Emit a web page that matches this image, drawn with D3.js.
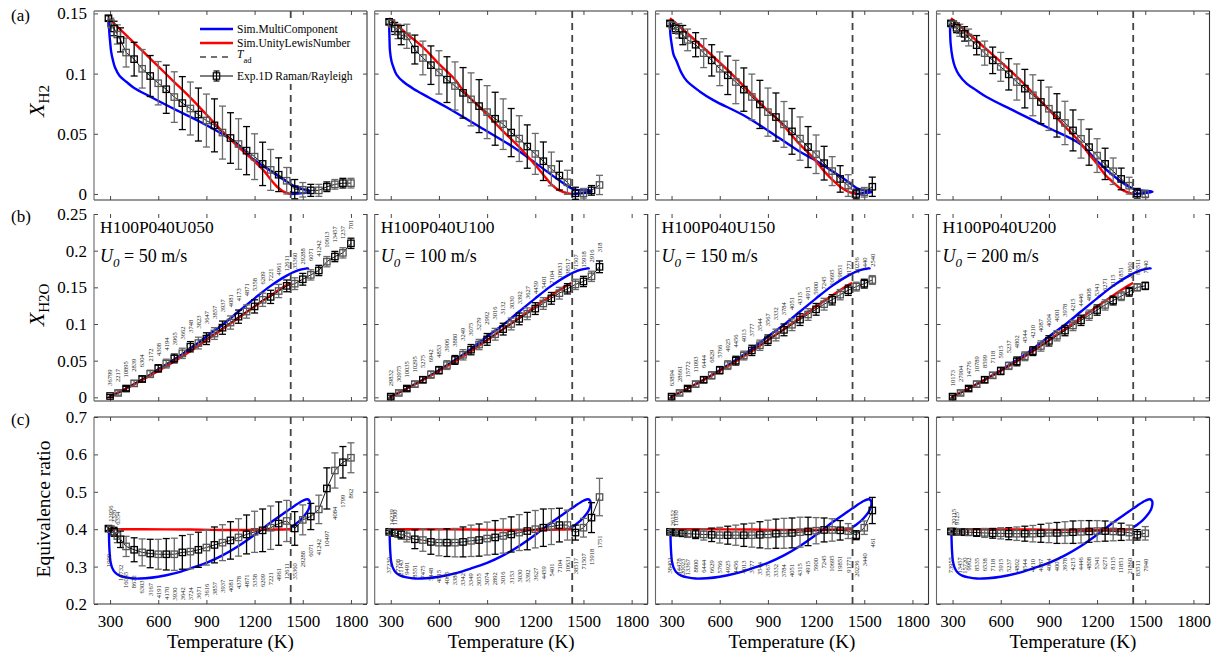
<!DOCTYPE html>
<html><head><meta charset="utf-8">
<script src="https://cdn.jsdelivr.net/npm/d3@7"></script>
<style>
body{margin:0;background:#fff}
svg{display:block}
</style>
</head><body>
<svg id="chart" width="1218" height="660" font-family="Liberation Serif"></svg>
<script>
// ---------------- DATA ----------------
const caseNames = ["H100P040U050","H100P040U100","H100P040U150","H100P040U200"];
const inletSpeeds = ["50","100","150","200"];
const tAdiabatic = [1425,1430,1427,1425];
const xTicks = [300,600,900,1200,1500,1800];
const xTickLabels = ["300","600","900","1200","1500","1800"];
const yTicksA = [0,0.05,0.1,0.15];
const yTickLabelsA = ["0","0.05","0.1","0.15"];
const yTicksB = [0,0.05,0.1,0.15,0.2,0.25];
const yTickLabelsB = ["0","0.05","0.1","0.15","0.2","0.25"];
const yTicksC = [0.2,0.3,0.4,0.5,0.6,0.7];
const yTickLabelsC = ["0.2","0.3","0.4","0.5","0.6","0.7"];
const legendLabels = ["Sim.MultiComponent","Sim.UnityLewisNumber","T_ad","Exp.1D Raman/Rayleigh"];

// temperature bins, rows (a) and (c)
const tAC1 = [290,305,325,345,365,400,450,500,550,600,650,700,750,800,850,900,950,1000,1050,1100,1150,1200,1250,1300,1350,1400,1450,1500,1550,1600,1650,1700,1750,1800];
const tAC2 = [290,305,325,345,365,400,450,500,550,600,650,700,750,800,850,900,950,1000,1050,1100,1150,1200,1250,1300,1350,1400,1450,1500,1550,1600];
const tAC3 = [290,305,325,345,370,400,450,500,550,600,650,700,750,800,850,900,950,1000,1050,1100,1150,1200,1250,1300,1350,1400,1450,1500,1550];
const tAC4 = [290,305,325,345,375,400,450,500,550,600,650,700,750,800,850,900,950,1000,1050,1100,1150,1200,1250,1300,1350,1400,1450,1500];
// temperature bins, row (b)
const tB1 = [300,350,400,450,500,550,600,650,700,750,800,850,900,950,1000,1050,1100,1150,1200,1250,1300,1350,1400,1450,1500,1550,1600,1650,1700,1750,1800];
const tB2 = [300,350,400,450,500,550,600,650,700,750,800,850,900,950,1000,1050,1100,1150,1200,1250,1300,1350,1400,1450,1500,1550,1600];
const tB3 = [300,350,400,450,500,550,600,650,700,750,800,850,900,950,1000,1050,1100,1150,1200,1250,1300,1350,1400,1450,1500,1550];
const tB4 = [300,350,400,450,500,550,600,650,700,750,800,850,900,950,1000,1050,1100,1150,1200,1250,1300,1350,1400,1450,1500];

// (a) X_H2 experiment
const xH2_1 = [0.146,0.142,0.1375,0.1325,0.128,0.1175,0.112,0.104,0.098,0.092,0.087,0.0805,0.0755,0.071,0.066,0.061,0.057,0.051,0.0465,0.0415,0.036,0.031,0.025,0.020,0.016,0.011,0.004,0.0035,0.003,0.003,0.006,0.008,0.009,0.009];
const errH2_1 = [0.002,0.004,0.006,0.008,0.010,0.012,0.014,0.016,0.017,0.018,0.020,0.021,0.022,0.022,0.022,0.022,0.022,0.022,0.021,0.021,0.020,0.019,0.018,0.017,0.014,0.011,0.008,0.006,0.005,0.005,0.004,0.004,0.004,0.004];
const xH2_2 = [0.143,0.1417,0.1375,0.135,0.132,0.131,0.120,0.113,0.107,0.101,0.095,0.0897,0.084,0.0786,0.073,0.068,0.0625,0.058,0.051,0.046,0.0394,0.0333,0.0272,0.0208,0.0153,0.0097,0.0006,0.0006,0.003,0.0075];
const errH2_2 = [0.002,0.003,0.005,0.006,0.008,0.010,0.012,0.014,0.016,0.018,0.019,0.020,0.021,0.022,0.022,0.022,0.022,0.021,0.020,0.019,0.018,0.017,0.016,0.014,0.012,0.010,0.005,0.004,0.004,0.008];
const xH2_3 = [0.1417,0.140,0.1375,0.1356,0.132,0.128,0.124,0.117,0.111,0.104,0.0986,0.093,0.0867,0.0806,0.0744,0.068,0.0639,0.0578,0.052,0.046,0.039,0.033,0.0256,0.019,0.0125,0.007,0.0,0.0014,0.006];
const errH2_3 = [0.002,0.003,0.004,0.006,0.008,0.009,0.010,0.012,0.013,0.014,0.016,0.018,0.018,0.019,0.020,0.020,0.020,0.019,0.019,0.018,0.017,0.016,0.014,0.012,0.011,0.009,0.004,0.004,0.008];
const xH2_4 = [0.1417,0.141,0.138,0.136,0.133,0.130,0.1236,0.117,0.111,0.1056,0.0994,0.093,0.0875,0.082,0.0764,0.0708,0.0653,0.059,0.0528,0.0458,0.0389,0.0319,0.025,0.0189,0.0125,0.0069,0.0006,0.0];
const errH2_4 = [0.002,0.003,0.004,0.005,0.006,0.007,0.008,0.010,0.011,0.012,0.013,0.015,0.016,0.017,0.018,0.018,0.018,0.018,0.017,0.016,0.015,0.014,0.013,0.011,0.009,0.007,0.004,0.003];

// (b) X_H2O experiment
const xH2O_1 = [0.0018,0.006,0.012,0.019,0.025,0.032,0.0395,0.046,0.053,0.060,0.069,0.074,0.080,0.087,0.095,0.102,0.110,0.117,0.124,0.133,0.137,0.145,0.152,0.155,0.161,0.167,0.173,0.185,0.192,0.197,0.210];
const errH2O_1 = [0.002,0.003,0.003,0.004,0.004,0.005,0.005,0.006,0.006,0.007,0.007,0.008,0.008,0.008,0.009,0.009,0.009,0.009,0.009,0.009,0.009,0.009,0.008,0.008,0.008,0.007,0.007,0.007,0.007,0.007,0.007];
const xH2O_2 = [0.001,0.006,0.012,0.018,0.024,0.031,0.037,0.044,0.051,0.058,0.065,0.072,0.079,0.086,0.093,0.100,0.107,0.114,0.121,0.128,0.135,0.142,0.148,0.154,0.158,0.165,0.178];
const errH2O_2 = [0.002,0.003,0.003,0.004,0.004,0.005,0.005,0.006,0.006,0.007,0.007,0.007,0.008,0.008,0.008,0.008,0.008,0.008,0.008,0.008,0.008,0.008,0.007,0.007,0.007,0.007,0.008];
const xH2O_3 = [0.001,0.006,0.012,0.018,0.024,0.030,0.037,0.044,0.050,0.057,0.064,0.071,0.078,0.085,0.092,0.099,0.106,0.113,0.120,0.127,0.133,0.140,0.146,0.151,0.155,0.160];
const errH2O_3 = [0.002,0.003,0.003,0.004,0.004,0.005,0.005,0.006,0.006,0.006,0.007,0.007,0.007,0.008,0.008,0.008,0.008,0.008,0.008,0.008,0.007,0.007,0.007,0.006,0.006,0.006];
const xH2O_4 = [0.001,0.006,0.012,0.018,0.024,0.030,0.036,0.043,0.049,0.056,0.063,0.070,0.077,0.084,0.091,0.098,0.105,0.112,0.119,0.126,0.132,0.138,0.144,0.150,0.152];
const errH2O_4 = [0.002,0.003,0.003,0.004,0.004,0.004,0.005,0.005,0.006,0.006,0.006,0.007,0.007,0.007,0.007,0.007,0.007,0.007,0.007,0.007,0.006,0.006,0.006,0.005,0.005];

// (c) equivalence ratio experiment
const phi_1 = [0.4016,0.400,0.393,0.382,0.373,0.354,0.345,0.338,0.335,0.333,0.333,0.333,0.338,0.340,0.345,0.351,0.358,0.364,0.370,0.378,0.386,0.393,0.397,0.404,0.415,0.422,0.402,0.425,0.434,0.453,0.509,0.557,0.579,0.591];
const errPhi_1 = [0.005,0.008,0.012,0.018,0.022,0.027,0.032,0.036,0.038,0.040,0.042,0.043,0.045,0.046,0.047,0.047,0.048,0.048,0.050,0.050,0.052,0.055,0.057,0.058,0.058,0.055,0.045,0.040,0.035,0.038,0.055,0.047,0.042,0.040];
const phi_2 = [0.393,0.392,0.390,0.388,0.386,0.381,0.373,0.371,0.366,0.364,0.364,0.364,0.366,0.369,0.371,0.375,0.378,0.382,0.386,0.391,0.395,0.400,0.404,0.407,0.411,0.411,0.391,0.404,0.431,0.486];
const errPhi_2 = [0.004,0.006,0.008,0.010,0.012,0.015,0.025,0.030,0.033,0.035,0.037,0.038,0.040,0.042,0.043,0.044,0.045,0.046,0.047,0.048,0.050,0.050,0.050,0.048,0.045,0.040,0.020,0.025,0.040,0.050];
const phi_3 = [0.393,0.392,0.391,0.390,0.389,0.388,0.387,0.386,0.385,0.384,0.384,0.384,0.384,0.384,0.385,0.386,0.388,0.389,0.390,0.392,0.394,0.396,0.398,0.398,0.397,0.395,0.384,0.404,0.450];
const errPhi_3 = [0.003,0.004,0.005,0.006,0.008,0.010,0.012,0.015,0.018,0.021,0.024,0.027,0.030,0.032,0.035,0.038,0.039,0.040,0.040,0.040,0.038,0.035,0.032,0.030,0.026,0.020,0.012,0.018,0.035];
const phi_4 = [0.394,0.394,0.393,0.393,0.392,0.392,0.391,0.390,0.389,0.389,0.388,0.388,0.388,0.388,0.389,0.390,0.390,0.391,0.392,0.393,0.394,0.395,0.395,0.394,0.393,0.391,0.385,0.389];
const errPhi_4 = [0.004,0.005,0.006,0.007,0.008,0.009,0.010,0.012,0.013,0.015,0.016,0.018,0.020,0.022,0.024,0.026,0.028,0.029,0.030,0.030,0.029,0.028,0.027,0.025,0.023,0.020,0.014,0.018];

// sample counts printed next to the points
const countsB1 = ["36799","2217","10895","2839","6304","2172","4308","4194","3965","3662","3748","3823","3647","3857","3937","4081","4173","4871","5358","6209","7221","4961","12611","35360","29288","6071","41242","10613","13457","1237","701"];
const countsB2 = ["29832","30975","10035","10295","5275","6942","4853","3906","3880","3249","3075","3279","2992","3016","3132","3030","3392","3627","4459","5401","7104","10631","38517","71507","15918","2916","318"];
const countsB3 = ["63894","28661","15772","11093","6444","6829","5766","4925","4456","4013","3777","3544","3567","3332","3784","4051","4315","4915","5900","7245","10695","19851","91771","20236","3440","2540"];
const countsB4 = ["10173","27904","14776","10789","8599","7118","5915","5237","4802","4544","4210","4087","4004","4001","3978","4215","4446","4808","5341","6271","8115","11851","21860","83511","7940"];
const countsC1 = ["1990","12956","2326","6354","14732","16045","8672","6303","3167","4191","4170","3930","3642","3724","3671","3616","3857","3937","4081","4378","4871","5358","6209","7221","4961","12611","35360","29288","6071","41242","10497","4084","1799","862"];
const countsC2 = ["37230","14239","11500","17708","21143","9491","8551","7475","5448","4815","4065","3380","3342","3349","3055","3074","2892","3016","3153","3030","3392","3627","4459","5401","7104","10631","38517","71507","15918","1751"];
const countsC3 = ["38401","26152","11050","14478","20023","13367","8800","6444","6629","5766","4925","4456","4013","3777","3544","3567","3332","3784","4051","4315","4915","5900","7245","10695","19851","91771","20236","3440","461"];
const countsC4 = ["73955","20115","9125","13457","15720","9962","8535","6538","7118","5915","5237","4802","4544","4210","4087","4004","4001","3978","4215","4446","4808","5341","6271","8115","11851","21860","83511","7940"];
const aboveC1 = [1,2,3];
const aboveC2 = [1,2];
const aboveC3 = [1,2];
const aboveC4 = [1,2];

// simulations [T, value]
const blueA1 = [[293,0.143],[295,0.135],[300,0.127],[307,0.118],[318,0.111],[331,0.105],[360,0.098],[403,0.093],[450,0.088],[548,0.081],[693,0.071],[860,0.060],[1067,0.044],[1191,0.029],[1300,0.019],[1357,0.014],[1440,0.007],[1500,0.004],[1535,0.003],[1545,0.002],[1520,0.001],[1470,0.0004],[1425,0]];
const redA1 = [[290,0.146],[400,0.132],[500,0.119],[600,0.106],[700,0.093],[800,0.080],[900,0.066],[1000,0.052],[1100,0.039],[1200,0.027],[1260,0.019],[1300,0.012],[1340,0.006],[1380,0.002],[1425,0]];
const blueA2 = [[290,0.140],[292,0.130],[295,0.119],[305,0.110],[320,0.104],[337,0.099],[380,0.093],[440,0.0875],[540,0.080],[648,0.072],[855,0.0556],[1062,0.039],[1208,0.025],[1353,0.011],[1436,0.004],[1500,0.003],[1540,0.003],[1550,0.002],[1520,0.001],[1470,0.0004],[1430,0]];
const redA2 = [[290,0.146],[400,0.133],[500,0.122],[600,0.108],[700,0.095],[750,0.086],[800,0.079],[900,0.066],[1000,0.052],[1100,0.039],[1200,0.024],[1250,0.016],[1300,0.008],[1350,0.003],[1400,0.0006],[1430,0]];
const blueA3 = [[290,0.142],[293,0.132],[300,0.125],[312,0.116],[332,0.110],[360,0.101],[394,0.094],[477,0.085],[560,0.078],[767,0.064],[975,0.046],[1100,0.035],[1182,0.029],[1300,0.019],[1390,0.011],[1452,0.005],[1500,0.003],[1535,0.002],[1545,0.0015],[1510,0.0008],[1450,0]];
const redA3 = [[290,0.146],[470,0.125],[680,0.099],[886,0.071],[975,0.060],[1093,0.042],[1182,0.030],[1250,0.019],[1300,0.012],[1350,0.006],[1400,0.002],[1450,0]];
const blueA4 = [[284,0.1417],[288,0.125],[300,0.113],[315,0.1056],[340,0.099],[388,0.0917],[450,0.086],[512,0.0806],[678,0.0694],[886,0.0556],[1093,0.0417],[1197,0.0278],[1300,0.0153],[1404,0.0056],[1470,0.003],[1539,0.0022],[1545,0.0018],[1510,0.001],[1460,0.0003],[1425,0]];
const redA4 = [[290,0.146],[470,0.125],[680,0.100],[886,0.072],[1000,0.056],[1093,0.043],[1150,0.033],[1200,0.025],[1250,0.016],[1300,0.0097],[1350,0.004],[1400,0.001],[1430,0]];
const blueB = [[293,0],[400,0.012],[500,0.024],[600,0.037],[700,0.051],[800,0.066],[900,0.083],[1000,0.099],[1100,0.117],[1200,0.135],[1300,0.152],[1400,0.166],[1470,0.173],[1533,0.176],[1520,0.1755]];
const redB = [[293,0],[400,0.012],[600,0.036],[800,0.063],[1000,0.093],[1200,0.124],[1300,0.139],[1400,0.153],[1425,0.156]];
const blueC = [[293,0.400],[294,0.370],[297,0.340],[302,0.315],[312,0.298],[330,0.285],[360,0.276],[400,0.271],[450,0.268],[520,0.269],[600,0.273],[700,0.282],[800,0.295],[900,0.310],[1000,0.330],[1100,0.355],[1200,0.385],[1300,0.418],[1400,0.448],[1450,0.463],[1500,0.476],[1530,0.480],[1543,0.475],[1544,0.465],[1535,0.452],[1512,0.437],[1480,0.422],[1450,0.412],[1425,0.405]];
const redC = [[293,0.400],[500,0.400],[800,0.399],[1000,0.398],[1200,0.398],[1350,0.399],[1425,0.400]];

// ---------------- LAYOUT ----------------
const FONT = "Liberation Serif";
const svg = d3.select("#chart");
const colLeft = [94, 374.7, 655.5, 936.5];
const colW = 273;
const rowsLayout = [
  {top:11, bottom:200, domain:[-0.005,0.152], ticks:yTicksA, tickLabels:yTickLabelsA, topLine:true},
  {top:214, bottom:401, domain:[-0.005,0.25], ticks:yTicksB, tickLabels:yTickLabelsB, topLine:false},
  {top:417, bottom:604, domain:[0.2,0.7], ticks:yTicksC, tickLabels:yTickLabelsC, topLine:true}
];
const columns = [
  {tAC:tAC1,tB:tB1,a:xH2_1,ea:errH2_1,b:xH2O_1,eb:errH2O_1,c:phi_1,ec:errPhi_1,cb:countsB1,cc:countsC1,up:aboveC1,blueA:blueA1,redA:redA1},
  {tAC:tAC2,tB:tB2,a:xH2_2,ea:errH2_2,b:xH2O_2,eb:errH2O_2,c:phi_2,ec:errPhi_2,cb:countsB2,cc:countsC2,up:aboveC2,blueA:blueA2,redA:redA2},
  {tAC:tAC3,tB:tB3,a:xH2_3,ea:errH2_3,b:xH2O_3,eb:errH2O_3,c:phi_3,ec:errPhi_3,cb:countsB3,cc:countsC3,up:aboveC3,blueA:blueA3,redA:redA3},
  {tAC:tAC4,tB:tB4,a:xH2_4,ea:errH2_4,b:xH2O_4,eb:errH2O_4,c:phi_4,ec:errPhi_4,cb:countsB4,cc:countsC4,up:aboveC4,blueA:blueA4,redA:redA4}
];
const axisColor = "#333";
const BLUE = "#0000ff", RED = "#ff0000";

function styleAxis(g){
  g.attr("font-family", FONT);
  g.select(".domain").remove();
  g.selectAll(".tick line").attr("stroke", axisColor).attr("stroke-width", 0.9);
  g.selectAll(".tick text").attr("fill","#000").attr("font-size",17).attr("font-family",FONT);
}

columns.forEach((col, ci) => {
  const L = colLeft[ci];
  const xs = d3.scaleLinear().domain([200,1900]).range([L, L+colW]);
  rowsLayout.forEach((row, ri) => {
    const ys = d3.scaleLinear().domain(row.domain).range([row.bottom, row.top]);
    const g = svg.append("g").attr("font-family", FONT);
    const bx = g.append("g").attr("transform",`translate(0,${row.bottom})`)
      .call(d3.axisBottom(xs).tickValues(xTicks).tickSize(-4).tickPadding(11)
        .tickFormat((d,i)=> ri===2 ? xTickLabels[i] : ""));
    styleAxis(bx);
    const tx = g.append("g").attr("transform",`translate(0,${row.top})`)
      .call(d3.axisTop(xs).tickValues(xTicks).tickSize(-4).tickFormat(""));
    styleAxis(tx);
    const ly = g.append("g").attr("transform",`translate(${L},0)`)
      .call(d3.axisLeft(ys).tickValues(row.ticks).tickSize(-4).tickPadding(7)
        .tickFormat((d,i)=> ci===0 ? row.tickLabels[i] : ""));
    styleAxis(ly);
    const ry = g.append("g").attr("transform",`translate(${L+colW},0)`)
      .call(d3.axisRight(ys).tickValues(row.ticks).tickSize(-4).tickFormat(""));
    styleAxis(ry);
    const fr = g.append("g").attr("stroke",axisColor).attr("stroke-width",1.1);
    fr.append("line").attr("x1",L).attr("x2",L+colW).attr("y1",row.bottom).attr("y2",row.bottom);
    if(row.topLine) fr.append("line").attr("x1",L).attr("x2",L+colW).attr("y1",row.top).attr("y2",row.top);
    fr.append("line").attr("x1",L).attr("x2",L).attr("y1",row.top).attr("y2",row.bottom).attr("stroke","#666");
    fr.append("line").attr("x1",L+colW).attr("x2",L+colW).attr("y1",row.top).attr("y2",row.bottom);

    const blue = ri===0 ? col.blueA : ri===1 ? blueB : blueC;
    const red = ri===0 ? col.redA : ri===1 ? redB : redC;
    const T = ri===1 ? col.tB : col.tAC;
    const V = ri===0 ? col.a : ri===1 ? col.b : col.c;
    const E = ri===0 ? col.ea : ri===1 ? col.eb : col.ec;

    const line = d3.line().x(d=>xs(d[0])).y(d=>ys(d[1])).curve(d3.curveCatmullRom.alpha(0.5));
    g.append("path").attr("d", line(blue)).attr("fill","none").attr("stroke",BLUE).attr("stroke-width",2.4);
    g.append("path").attr("d", line(red)).attr("fill","none").attr("stroke",RED).attr("stroke-width",2.4);

    g.append("line").attr("x1",xs(tAdiabatic[ci])).attr("x2",xs(tAdiabatic[ci]))
      .attr("y1",row.top).attr("y2",row.bottom)
      .attr("stroke","#444").attr("stroke-width",1.8).attr("stroke-dasharray","7,5");

    const pts = T.map((t,i)=>({t, v:V[i], e:E[i], i}));
    g.append("path").attr("d", d3.line().x(d=>xs(d.t)).y(d=>ys(d.v))(pts))
      .attr("fill","none").attr("stroke","#000").attr("stroke-width",0.9);
    const eg = g.append("g");
    pts.forEach(p=>{
      const c = p.i%2===0 ? "#000" : "#6a6a6a";
      const x = xs(p.t), y1 = ys(p.v - p.e), y2 = ys(p.v + p.e);
      eg.append("line").attr("x1",x).attr("x2",x).attr("y1",y1).attr("y2",y2).attr("stroke",c).attr("stroke-width",1.3);
      eg.append("line").attr("x1",x-3.5).attr("x2",x+3.5).attr("y1",y1).attr("y2",y1).attr("stroke",c).attr("stroke-width",1.3);
      eg.append("line").attr("x1",x-3.5).attr("x2",x+3.5).attr("y1",y2).attr("y2",y2).attr("stroke",c).attr("stroke-width",1.3);
    });
    pts.forEach(p=>{
      const c = p.i%2===0 ? "#000" : "#555";
      eg.append("rect").attr("x",xs(p.t)-3.2).attr("y",ys(p.v)-3.2).attr("width",6.4).attr("height",6.4)
        .attr("fill","none").attr("stroke",c).attr("stroke-width",1.3);
    });

    const ag = g.append("g").attr("font-size",6.5).attr("fill","#222").attr("font-family",FONT);
    if(ri===1){
      pts.forEach(p=>{
        ag.append("text").attr("transform",`translate(${xs(p.t)+2.3},${ys(p.v+p.e+0.012)}) rotate(-90)`)
          .attr("text-anchor","start").text(col.cb[p.i]);
      });
    }
    if(ri===2){
      pts.forEach(p=>{
        if(col.up.includes(p.i)){
          ag.append("text").attr("transform",`translate(${xs(p.t)+2.3},${ys(p.v+p.e+0.012)}) rotate(-90)`)
            .attr("text-anchor","start").text(col.cc[p.i]);
        } else {
          ag.append("text").attr("transform",`translate(${xs(p.t)+2.3},${ys(p.v-Math.max(2*p.e,0.065)-0.003)}) rotate(-90)`)
            .attr("text-anchor","end").text(col.cc[p.i]);
        }
      });
    }

    if(ri===1){
      g.append("text").attr("x",L+6).attr("y",233).attr("font-size",17.5).attr("fill","#000").text(caseNames[ci]);
      const u = g.append("text").attr("x",L+6).attr("y",262).attr("font-size",18).attr("fill","#000");
      u.append("tspan").attr("font-style","italic").text("U");
      u.append("tspan").attr("font-style","italic").attr("font-size",13).attr("dy",5).text("0");
      u.append("tspan").attr("dy",-5).text(" = " + inletSpeeds[ci] + " m/s");
    }
    if(ri===2){
      g.append("text").attr("x",L+colW/2).attr("y",648).attr("text-anchor","middle")
        .attr("font-size",19).attr("fill","#000").text("Temperature (K)");
    }
  });
});

// legend (panel a, first column)
const lg = svg.append("g").attr("font-family",FONT);
lg.append("rect").attr("x",196).attr("y",19).attr("width",166).attr("height",65).attr("fill","#fff");
const legY = [29, 43, 57, 76];
lg.append("line").attr("x1",200).attr("x2",233).attr("y1",legY[0]).attr("y2",legY[0]).attr("stroke",BLUE).attr("stroke-width",2.4);
lg.append("line").attr("x1",200).attr("x2",233).attr("y1",legY[1]).attr("y2",legY[1]).attr("stroke",RED).attr("stroke-width",2.4);
lg.append("line").attr("x1",200).attr("x2",233).attr("y1",legY[2]).attr("y2",legY[2]).attr("stroke","#444").attr("stroke-width",1.6).attr("stroke-dasharray","6,5");
lg.append("line").attr("x1",200).attr("x2",233).attr("y1",legY[3]).attr("y2",legY[3]).attr("stroke","#000").attr("stroke-width",1.1);
lg.append("line").attr("x1",216.5).attr("x2",216.5).attr("y1",legY[3]-5).attr("y2",legY[3]+5).attr("stroke","#000").attr("stroke-width",1.2);
lg.append("line").attr("x1",213.5).attr("x2",219.5).attr("y1",legY[3]-5).attr("y2",legY[3]-5).attr("stroke","#000").attr("stroke-width",1.2);
lg.append("line").attr("x1",213.5).attr("x2",219.5).attr("y1",legY[3]+5).attr("y2",legY[3]+5).attr("stroke","#000").attr("stroke-width",1.2);
lg.append("rect").attr("x",213.3).attr("y",legY[3]-3.2).attr("width",6.4).attr("height",6.4).attr("fill","none").attr("stroke","#000").attr("stroke-width",1.2);
[0,1,3].forEach(i=>{
  lg.append("text").attr("x",237).attr("y",legY[i]+4).attr("font-size",11.5).attr("fill","#000").text(legendLabels[i]);
});
const tl = lg.append("text").attr("x",237).attr("y",legY[2]+1).attr("font-size",11.5).attr("fill","#000");
tl.append("tspan").attr("font-style","italic").text("T");
tl.append("tspan").attr("font-size",8.5).attr("dy",5).text("ad");

[["(a)",15],["(b)",216],["(c)",419]].forEach(([s,y])=>{
  svg.append("text").attr("x",11).attr("y",y+6).attr("font-size",17).attr("fill","#000").text(s);
});

const yl1 = svg.append("text").attr("transform","translate(44,101) rotate(-90)").attr("text-anchor","middle").attr("font-size",22).attr("fill","#000");
yl1.append("tspan").attr("font-style","italic").text("X");
yl1.append("tspan").attr("font-size",15).attr("dy",5).text("H2");
const yl2 = svg.append("text").attr("transform","translate(44,305) rotate(-90)").attr("text-anchor","middle").attr("font-size",22).attr("fill","#000");
yl2.append("tspan").attr("font-style","italic").text("X");
yl2.append("tspan").attr("font-size",15).attr("dy",5).text("H2O");
svg.append("text").attr("transform","translate(50,509) rotate(-90)").attr("text-anchor","middle")
  .attr("font-size",19.5).attr("fill","#000").text("Equivalence ratio");
</script>
</body></html>
